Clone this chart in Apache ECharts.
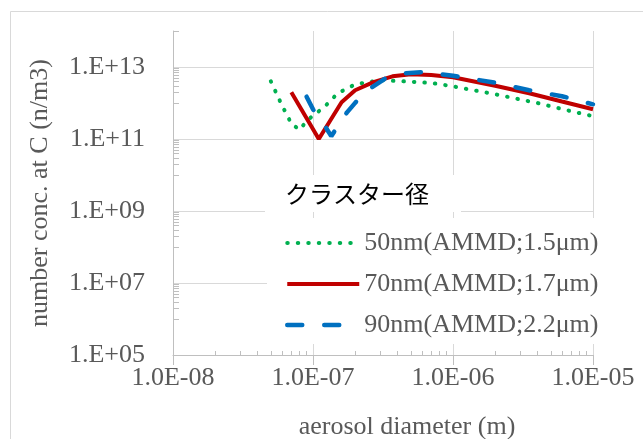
<!DOCTYPE html>
<html>
<head>
<meta charset="utf-8">
<script src="https://cdn.jsdelivr.net/npm/echarts@6/dist/echarts.min.js"></script>
<style>
html, body { margin: 0; padding: 0; background: #fff; }
#chart { width: 643px; height: 439px; }
</style>
</head>
<body>
<div id="chart"></div>
<script>
// series names (legend)
var names = ['50nm(AMMD;1.5μm)', '70nm(AMMD;1.7μm)', '90nm(AMMD;2.2μm)'];

// 50nm cluster: diameter (m) / number conc. (n/m3)
var d50 = [5e-8, 6e-8, 7e-8, 8e-8, 9e-8, 1e-7, 1.2e-7, 1.5e-7, 2e-7, 3e-7, 4.5e-7, 7e-7, 1e-6, 2e-6, 4e-6, 7e-6, 1e-5];
var n50 = [4.0e12, 8.6e11, 2.7e11, 1.8e11, 3.1e11, 4.5e11, 7.6e11, 1.86e12, 3.3e12, 4.3e12, 4.0e12, 3.6e12, 2.9e12, 1.75e12, 1.0e12, 5.9e11, 4.3e11];

// 70nm cluster
var d70 = [7e-8, 1.1e-7, 1.6e-7, 2e-7, 2.7e-7, 3.7e-7, 5e-7, 7e-7, 1e-6, 2e-6, 3.5e-6, 6e-6, 1e-5];
var n70 = [2.0e12, 1.0e11, 1.05e12, 2.26e12, 3.8e12, 5.5e12, 6.3e12, 6.0e12, 5.2e12, 3.0e12, 1.86e12, 1.1e12, 6.7e11];

// 90nm cluster
var d90 = [9e-8, 1e-7, 1.2e-7, 1.35e-7, 1.75e-7, 2e-7, 2.5e-7, 3.3e-7, 4.5e-7, 6e-7, 1e-6, 2e-6, 3.5e-6, 6e-6, 1e-5];
var n90 = [1.5e12, 6.7e11, 2.5e11, 1.2e11, 5.5e11, 1.01e12, 2.4e12, 4.9e12, 6.7e12, 7.2e12, 5.7e12, 3.65e12, 2.26e12, 1.54e12, 9.2e11];

function pairs(xs, ys) {
    return xs.map(function (x, i) { return [x, ys[i]]; });
}

// minor tick positions like excel's log axes
var xMinor = [];
for (var e = -8; e < -5; e++) {
    for (var j = 2; j <= 9; j++) xMinor.push(j * Math.pow(10, e));
}
var yMinor = [];
for (var e2 = 5; e2 < 14; e2 += 2) {
    for (var k = 1; k <= 9; k++) {
        var v = k * Math.pow(10, e2 + 1);
        if (v <= 1e14) yMinor.push(v);
    }
}

var serif = 'Liberation Serif';
var grey = '#595959';
var axisGrey = '#bfbfbf';

var lines = [
    { color: '#00b050', width: 4, type: [0.5, 10], cap: 'round' },
    { color: '#c00000', width: 4, type: 'solid', cap: 'butt' },
    { color: '#0070c0', width: 4.5, type: [15, 22], cap: 'round' }
];

var myChart = echarts.init(document.getElementById('chart'));
option = {
    animation: false,
    backgroundColor: '#fff',
    graphic: [{
        type: 'rect',
        shape: { x: 10.5, y: 11.5, width: 700, height: 500 },
        style: { fill: null, stroke: '#d9d9d9', lineWidth: 1 },
        silent: true
    }],
    title: {
        text: 'クラスター径',
        left: 265,
        top: 175,
        backgroundColor: '#fff',
        padding: [6, 32, 6, 20],
        textStyle: {
            fontFamily: 'Noto Sans CJK JP',
            fontSize: 24,
            fontWeight: 'normal',
            color: '#000',
            lineHeight: 25
        }
    },
    legend: {
        orient: 'vertical',
        left: 267,
        top: 218,
        backgroundColor: '#fff',
        padding: [12, 30, 6, 18],
        itemWidth: 72,
        itemHeight: 14,
        itemGap: 15,
        itemStyle: { opacity: 0 },
        textStyle: { fontFamily: serif, fontSize: 26, color: grey },
        data: names.map(function (n, i) {
            return {
                name: n,
                itemStyle: { opacity: 0 },
                lineStyle: { width: lines[i].width, type: lines[i].type, cap: lines[i].cap }
            };
        })
    },
    grid: { left: 173, right: 50, top: 31, bottom: 84, containLabel: false, outerBoundsMode: 'none' },
    xAxis: [{
        type: 'log',
        min: 1e-8,
        max: 1e-5,
        interval: 1,
        name: 'aerosol diameter (m)',
        nameLocation: 'middle',
        nameGap: 59,
        nameTextStyle: { fontFamily: serif, fontSize: 26, color: grey, padding: [0, 0, 0, 48] },
        axisLine: { lineStyle: { color: axisGrey, width: 1 } },
        axisTick: { show: true, length: 10, lineStyle: { color: axisGrey } },
        splitLine: { show: true, lineStyle: { color: '#d9d9d9', width: 1 } },
        axisLabel: {
            fontFamily: serif, fontSize: 26, color: grey, margin: 10,
            formatter: function (v) {
                var e = Math.round(Math.log10(v));
                return '1.0E-' + (-e < 10 ? '0' : '') + (-e);
            }
        }
    }, {
        // overlay axis, only for the minor ticks
        type: 'log',
        min: 1e-8,
        max: 1e-5,
        position: 'bottom',
        axisLine: { show: false },
        axisLabel: { show: false },
        splitLine: { show: false },
        axisTick: { show: true, inside: true, length: 4, customValues: xMinor, lineStyle: { color: axisGrey } }
    }],
    yAxis: [{
        type: 'log',
        min: 1e5,
        max: 1e14,
        interval: 2,
        name: 'number conc. at C (n/m3)',
        nameLocation: 'middle',
        nameGap: 120,
        nameTextStyle: { fontFamily: serif, fontSize: 26, color: grey },
        axisLine: { show: true, lineStyle: { color: axisGrey, width: 1 } },
        axisTick: { show: false },
        splitLine: { show: true, showMaxLine: false, lineStyle: { color: '#d9d9d9', width: 1 } },
        axisLabel: {
            fontFamily: serif, fontSize: 26, color: grey, margin: 28,
            showMaxLabel: false,
            formatter: function (v) {
                var e = Math.round(Math.log10(v));
                if (e > 13) return '';
                return '1.E+' + (e < 10 ? '0' : '') + e;
            }
        }
    }, {
        type: 'log',
        min: 1e5,
        max: 1e14,
        position: 'left',
        axisLine: { show: false },
        axisLabel: { show: false },
        splitLine: { show: false },
        axisTick: { show: true, inside: true, length: 6, customValues: yMinor, lineStyle: { color: axisGrey } }
    }],
    series: [
        { x: d50, y: n50 },
        { x: d70, y: n70 },
        { x: d90, y: n90 }
    ].map(function (s, i) {
        return {
            name: names[i],
            type: 'line',
            xAxisIndex: 0,
            yAxisIndex: 0,
            symbol: 'none',
            data: pairs(s.x, s.y),
            lineStyle: lines[i],
            itemStyle: { color: lines[i].color }
        };
    })
};
myChart.setOption(option);
</script>
</body>
</html>
